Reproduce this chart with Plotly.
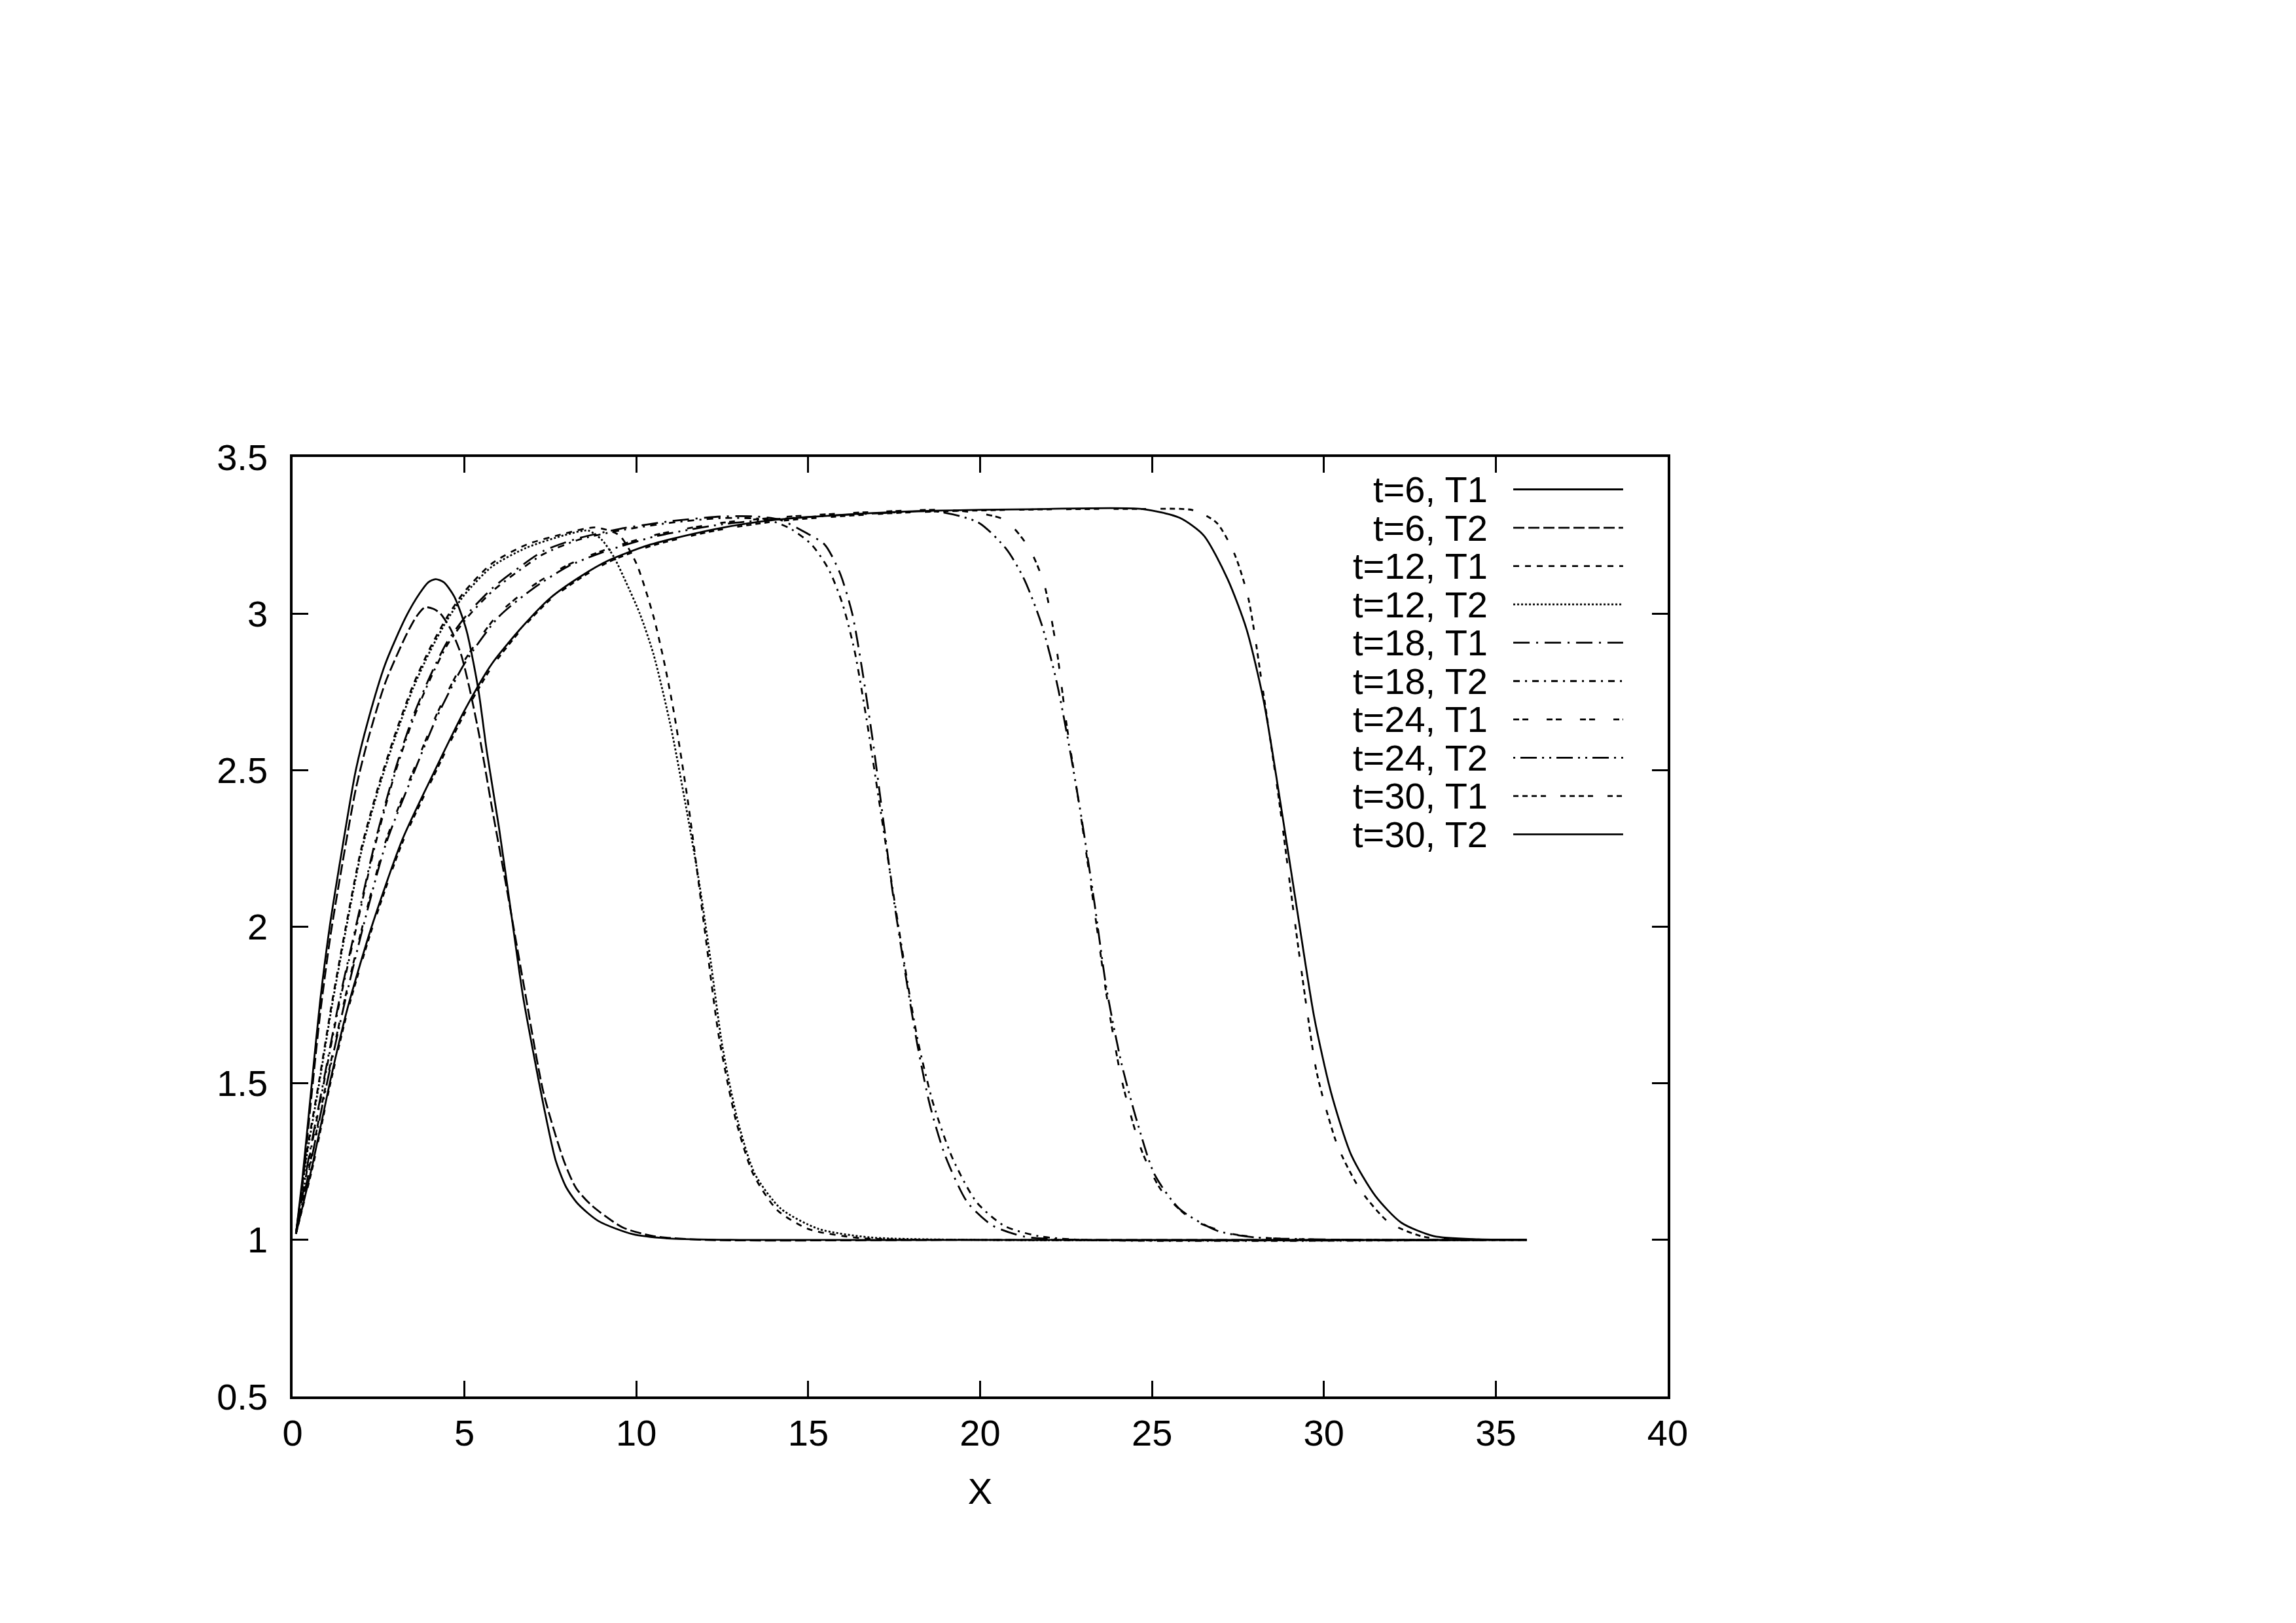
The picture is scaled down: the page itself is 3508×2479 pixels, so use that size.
import plotly.graph_objects as go

# ---------------- data ----------------
T6_T1_X = [0.1, 0.29, 0.56, 0.8, 1.08, 1.4, 1.84, 2.2, 2.7, 3.3, 3.7, 3.95, 4.16, 4.4, 4.7, 5.05, 5.4, 5.65, 6.0, 6.35, 6.7, 7.0, 7.3, 7.65, 7.95, 8.3, 8.9, 9.9, 11.0, 13.0, 20.0, 35.9]
T6_T1_Y = [1.02, 1.2, 1.5, 1.76, 2.0, 2.22, 2.5, 2.66, 2.84, 2.99, 3.065, 3.10, 3.11, 3.10, 3.055, 2.95, 2.76, 2.56, 2.32, 2.05, 1.78, 1.6, 1.43, 1.255, 1.17, 1.115, 1.06, 1.018, 1.004, 1.0, 1.0, 1.0]

T6_T2_X = [0.1, 0.3, 0.56, 0.8, 1.1, 1.4, 1.84, 2.2, 2.7, 3.3, 3.6, 3.85, 4.1, 4.3, 4.6, 4.9, 5.15, 5.45, 5.8, 6.2, 6.7, 7.3, 7.9, 8.25, 8.7, 9.6, 10.5, 12.0, 20.0, 35.9]
T6_T2_Y = [1.02, 1.19, 1.47, 1.72, 1.97, 2.17, 2.44, 2.6, 2.78, 2.93, 2.99, 3.02, 3.015, 3.0, 2.95, 2.87, 2.76, 2.6, 2.38, 2.14, 1.83, 1.47, 1.25, 1.165, 1.11, 1.04, 1.012, 1.0, 1.0, 1.0]

T12_T1_X = [0.1, 0.4, 0.76, 1.15, 1.55, 2.0, 2.5, 3.0, 3.5, 4.0, 4.5, 5.0, 5.8, 6.8, 7.9, 8.8, 9.5, 10.0, 10.5, 10.8, 11.1, 11.5, 12.0, 12.4, 12.9, 13.4, 14.1, 15.0, 16.5, 20.0, 35.9]
T12_T1_Y = [1.02, 1.27, 1.5, 1.76, 2.0, 2.25, 2.45, 2.62, 2.77, 2.89, 2.99, 3.07, 3.16, 3.22, 3.255, 3.275, 3.25, 3.16, 2.99, 2.85, 2.68, 2.4, 1.98, 1.65, 1.38, 1.21, 1.095, 1.035, 1.006, 1.0, 1.0]

T12_T2_X = [0.1, 0.4, 0.76, 1.15, 1.55, 2.0, 2.5, 3.0, 3.5, 4.0, 4.5, 5.0, 5.8, 6.8, 7.9, 8.6, 9.0, 9.35, 9.7, 10.1, 10.5, 11.0, 11.4, 11.8, 12.15, 12.5, 12.95, 13.45, 14.2, 15.3, 16.8, 20.0, 35.9]
T12_T2_Y = [1.02, 1.26, 1.49, 1.75, 1.99, 2.24, 2.44, 2.61, 2.76, 2.88, 2.98, 3.06, 3.15, 3.21, 3.25, 3.265, 3.235, 3.18, 3.1, 3.0, 2.87, 2.64, 2.41, 2.16, 1.9, 1.62, 1.38, 1.21, 1.1, 1.035, 1.008, 1.0, 1.0]

T18_T1_X = [0.1, 0.45, 0.89, 1.35, 1.84, 2.4, 2.98, 3.5, 4.0, 4.5, 5.1, 5.8, 6.5, 7.3, 8.3, 9.5, 11.0, 12.5, 13.5, 14.17, 14.9, 15.48, 15.92, 16.28, 16.57, 16.87, 17.16, 17.45, 17.81, 18.18, 18.54, 18.98, 19.63, 20.36, 21.3, 23.0, 35.9]
T18_T1_Y = [1.02, 1.25, 1.5, 1.76, 2.0, 2.27, 2.5, 2.67, 2.8, 2.91, 3.0, 3.08, 3.14, 3.2, 3.24, 3.27, 3.295, 3.31, 3.31, 3.30, 3.26, 3.22, 3.13, 3.0, 2.82, 2.6, 2.36, 2.115, 1.86, 1.62, 1.43, 1.27, 1.12, 1.046, 1.01, 1.0, 1.0]

T18_T2_X = [0.1, 0.45, 0.89, 1.35, 1.84, 2.4, 2.98, 3.5, 4.0, 4.5, 5.1, 5.8, 6.5, 7.3, 8.3, 9.5, 11.0, 12.5, 13.8, 14.5, 15.1, 15.6, 16.0, 16.35, 16.7, 17.05, 17.4, 17.8, 18.2, 18.65, 19.2, 19.9, 20.7, 21.7, 23.0, 35.9]
T18_T2_Y = [1.02, 1.24, 1.49, 1.75, 1.99, 2.26, 2.49, 2.66, 2.79, 2.9, 2.99, 3.07, 3.13, 3.19, 3.235, 3.265, 3.29, 3.305, 3.30, 3.27, 3.22, 3.14, 3.03, 2.88, 2.66, 2.41, 2.16, 1.88, 1.63, 1.43, 1.26, 1.12, 1.045, 1.012, 1.0, 1.0]

T24_T1_X = [0.1, 0.5, 0.98, 1.5, 2.03, 2.7, 3.52, 4.2, 5.0, 6.0, 7.0, 8.0, 9.0, 10.5, 12.5, 14.5, 17.0, 19.2, 20.7, 21.42, 21.86, 22.22, 22.51, 22.88, 23.24, 23.68, 24.12, 24.7, 25.28, 26.17, 27.3, 28.5, 35.9]
T24_T1_Y = [1.02, 1.24, 1.5, 1.76, 2.0, 2.27, 2.5, 2.68, 2.85, 3.0, 3.09, 3.155, 3.2, 3.25, 3.29, 3.31, 3.325, 3.33, 3.30, 3.21, 3.095, 2.89, 2.65, 2.39, 2.12, 1.78, 1.51, 1.285, 1.157, 1.065, 1.02, 1.005, 1.0]

T24_T2_X = [0.1, 0.5, 0.98, 1.5, 2.03, 2.7, 3.52, 4.2, 5.0, 6.0, 7.0, 8.0, 9.0, 10.5, 12.5, 14.5, 17.0, 18.8, 19.96, 20.77, 21.28, 21.79, 22.23, 22.59, 22.96, 23.32, 23.68, 24.12, 24.56, 25.07, 25.79, 26.88, 28.0, 35.9]
T24_T2_Y = [1.02, 1.23, 1.49, 1.75, 1.99, 2.26, 2.49, 2.67, 2.84, 2.99, 3.08, 3.15, 3.195, 3.245, 3.285, 3.305, 3.32, 3.325, 3.29, 3.205, 3.11, 2.965, 2.78, 2.577, 2.34, 2.08, 1.80, 1.56, 1.38, 1.21, 1.10, 1.03, 1.008, 1.0]

T30_T1_X = [0.1, 0.6, 1.08, 1.6, 2.3, 3.2, 4.1, 5.0, 5.8, 6.7, 7.5, 8.4, 9.2, 10.4, 12.3, 14.1, 17.7, 21.4, 24.7, 26.2, 26.88, 27.4, 27.8, 28.22, 28.7, 29.15, 29.5, 29.8, 30.4, 31.06, 31.9, 32.9, 34.0, 35.9]
T30_T1_Y = [1.02, 1.24, 1.49, 1.73, 1.99, 2.27, 2.48, 2.68, 2.83, 2.955, 3.045, 3.115, 3.165, 3.215, 3.265, 3.295, 3.322, 3.332, 3.334, 3.33, 3.29, 3.19, 3.05, 2.76, 2.40, 2.02, 1.74, 1.53, 1.30, 1.16, 1.055, 1.01, 1.002, 1.0]

T30_T2_X = [0.1, 0.6, 1.08, 1.6, 2.3, 3.2, 4.1, 5.0, 5.8, 6.7, 7.5, 8.4, 9.2, 10.4, 12.3, 14.1, 17.7, 21.4, 24.7, 25.8, 26.5, 27.2, 27.75, 28.25, 28.73, 29.24, 29.72, 30.21, 30.8, 31.5, 32.25, 33.2, 34.5, 35.9]
T30_T2_Y = [1.02, 1.25, 1.5, 1.74, 2.0, 2.28, 2.49, 2.69, 2.84, 2.96, 3.05, 3.12, 3.17, 3.22, 3.27, 3.30, 3.325, 3.333, 3.334, 3.306, 3.25, 3.11, 2.95, 2.72, 2.40, 2.04, 1.71, 1.47, 1.27, 1.14, 1.055, 1.012, 1.002, 1.0]

SERIES_NAMES = ["t=6, T1", "t=6, T2", "t=12, T1", "t=12, T2", "t=18, T1",
                "t=18, T2", "t=24, T1", "t=24, T2", "t=30, T1", "t=30, T2"]
SERIES_X = [T6_T1_X, T6_T2_X, T12_T1_X, T12_T2_X, T18_T1_X,
            T18_T2_X, T24_T1_X, T24_T2_X, T30_T1_X, T30_T2_X]
SERIES_Y = [T6_T1_Y, T6_T2_Y, T12_T1_Y, T12_T2_Y, T18_T1_Y,
            T18_T2_Y, T24_T1_Y, T24_T2_Y, T30_T1_Y, T30_T2_Y]

X_TICKS = [0, 5, 10, 15, 20, 25, 30, 35, 40]
Y_TICKS = [0.5, 1, 1.5, 2, 2.5, 3, 3.5]

# ---------------- styles ----------------
DASHES = ["solid", "17px,6px", "9px,9px", "3px,3px", "25px,10px,3px,10px",
          "10px,8px,3px,8px", "9px,5px,9px,28px", "3px,8px,25px,8px,3px,8px",
          "8px,6px,8px,6px,8px,6px,8px,22px", "solid"]
FONT = "Liberation Sans, Arial, Helvetica, sans-serif"
FS = 56
LW = 2.8

fig = go.Figure()
for name, xs, ys, dash in zip(SERIES_NAMES, SERIES_X, SERIES_Y, DASHES):
    fig.add_trace(go.Scatter(
        x=xs, y=ys, mode="lines", name=name, showlegend=False,
        line=dict(color="black", width=LW, dash=dash, shape="spline", smoothing=0.7),
    ))

# gnuplot-style key: text right-aligned, then line sample
row0 = 0.9655
dy = 0.0408
for i, (name, dash) in enumerate(zip(SERIES_NAMES, DASHES)):
    yy = row0 - i * dy
    fig.add_annotation(x=0.870, y=yy, xref="paper", yref="paper", text=name,
                       showarrow=False, xanchor="right", yanchor="middle",
                       font=dict(family=FONT, size=FS, color="black"))
    fig.add_shape(type="line", xref="paper", yref="paper",
                  x0=0.8877, x1=0.9676, y0=yy, y1=yy,
                  line=dict(color="black", width=LW, dash=dash))

axis_common = dict(
    showgrid=False, zeroline=False, showline=True, linecolor="black",
    linewidth=3.5, mirror="ticks", ticks="inside", ticklen=24,
    tickwidth=2.5, tickcolor="black",
    tickfont=dict(family=FONT, size=FS, color="black"),
)

fig.update_layout(
    width=3508, height=2479,
    margin=dict(l=447, r=960, t=698, b=346),
    paper_bgcolor="white", plot_bgcolor="white",
    font=dict(family=FONT, size=FS, color="black"),
    xaxis=dict(range=[0, 40], tickvals=X_TICKS, ticktext=[str(v) for v in X_TICKS],
               title=dict(text="X", font=dict(family=FONT, size=FS), standoff=40),
               ticklabelstandoff=4, **axis_common),
    yaxis=dict(range=[0.5, 3.5], tickvals=Y_TICKS, ticktext=[f"{v:g}" for v in Y_TICKS],
               ticklabelstandoff=23, **axis_common),
)

fig.write_html("out.html", config={"displayModeBar": False},
               post_script="document.body.style.margin='0px';")
